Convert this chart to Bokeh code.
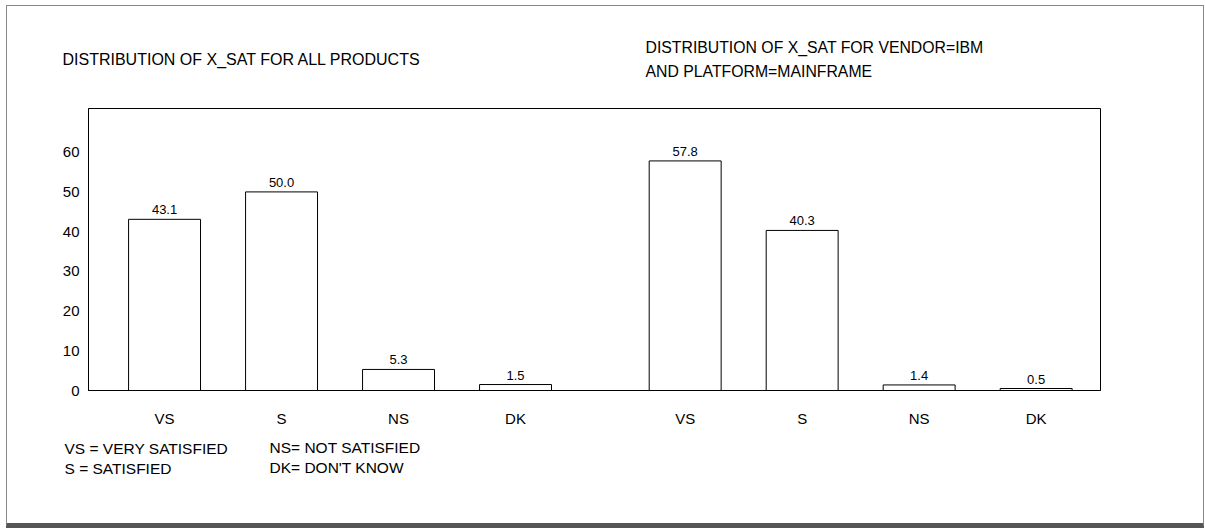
from bokeh.plotting import figure
from bokeh.models import Range1d, ColumnDataSource, FixedTicker, Label
from bokeh.core.properties import value
from bokeh.embed import file_html
from bokeh.resources import INLINE

# ---- data ----
categories = ["VS", "S", "NS", "DK"]
all_products = [43.1, 50.0, 5.3, 1.5]
ibm_mainframe = [57.8, 40.3, 1.4, 0.5]
y_ticks = [0, 10, 20, 30, 40, 50, 60]
title_left = "DISTRIBUTION OF X_SAT FOR ALL PRODUCTS"
title_right = ["DISTRIBUTION OF X_SAT FOR VENDOR=IBM", "AND PLATFORM=MAINFRAME"]
legend_left = ["VS = VERY SATISFIED", "S = SATISFIED"]
legend_right = ["NS= NOT SATISFIED", "DK= DON'T KNOW"]

# ---- layout ----
FONT = "Liberation Sans"
GROUP_OFFSET = 4.45
X_START, X_END = -0.65, 8.0
Y_MAX = 71
BAR_W = 0.615
W, H = 1196, 517          # canvas size inside the outer border
FRAME_L, FRAME_T, FRAME_W, FRAME_H = 81, 102, 1012, 282
ORG_X, ORG_Y = 7, 6       # page position of the canvas origin

xs, tops, labels = [], [], []
for g, series in enumerate([all_products, ibm_mainframe]):
    for i, v in enumerate(series):
        xs.append(i + g * GROUP_OFFSET)
        tops.append(v)
        labels.append(f"{v:.1f}")
tick_labels = {x: categories[k % 4] for k, x in enumerate(xs)}
src = ColumnDataSource(dict(x=xs, top=tops, label=labels))

p = figure(
    width=W, height=H,
    frame_width=FRAME_W, frame_height=FRAME_H,
    min_border_left=FRAME_L, min_border_top=FRAME_T,
    min_border_right=W - FRAME_L - FRAME_W,
    min_border_bottom=H - FRAME_T - FRAME_H,
    x_range=Range1d(X_START, X_END), y_range=Range1d(0, Y_MAX),
    output_backend="svg", toolbar_location=None,
)
p.styles = {"margin-left": "6px", "margin-top": "5px",
            "border-top": "1px solid #888", "border-left": "1px solid #888",
            "border-right": "1px solid #888", "border-bottom": "5px solid #555"}
p.outline_line_color = "black"
p.outline_line_width = 1
p.xgrid.visible = False
p.ygrid.visible = False
p.background_fill_color = "white"
p.border_fill_color = "white"

p.vbar(x="x", top="top", width=BAR_W, bottom=0, source=src,
       fill_color="white", line_color="black", line_width=1)
p.text(x="x", y="top", text="label", source=src, text_align="center",
       text_baseline="bottom", y_offset=-5, text_font=value(FONT),
       text_font_size="13px", text_color="black")

for ax in (p.xaxis[0], p.yaxis[0]):
    ax.major_tick_line_color = None
    ax.minor_tick_line_color = None
    ax.major_tick_out = 0
    ax.major_tick_in = 0
    ax.axis_line_color = "black"
    ax.major_label_text_font = FONT
    ax.major_label_text_font_size = "15px"
    ax.major_label_text_color = "black"

p.xaxis[0].ticker = FixedTicker(ticks=xs)
p.xaxis[0].major_label_overrides = tick_labels
p.xaxis[0].major_label_standoff = 19
p.yaxis[0].ticker = FixedTicker(ticks=y_ticks)
p.yaxis[0].major_label_standoff = 9


def add_text(text, px, py, place, size="15px"):
    p.add_layout(Label(x=px - ORG_X, y=py - ORG_Y, x_units="canvas", y_units="canvas",
                       text=text, text_font=FONT, text_font_size=size,
                       text_align="left", text_baseline="middle",
                       text_color="black"), place)


add_text(title_left, 61, 58, "above", "16px")
add_text(title_right[0], 644, 46, "above", "15.8px")
add_text(title_right[1], 644, 70, "above", "15.8px")

add_text(legend_left[0], 63, 447, "below", "15.5px")
add_text(legend_left[1], 63, 467, "below", "15.5px")
add_text(legend_right[0], 268, 446, "below", "15.5px")
add_text(legend_right[1], 268, 466, "below", "15.5px")

open("out.html", "w").write(file_html(p, INLINE))
